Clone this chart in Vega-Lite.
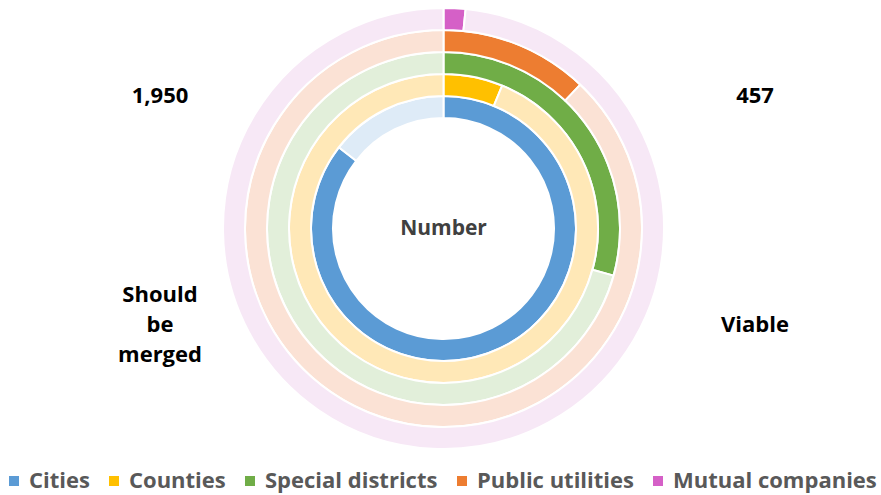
{
  "$schema": "https://vega.github.io/schema/vega-lite/v6.json",
  "width": 875,
  "height": 457,
  "autosize": {"type": "none"},
  "padding": {"left": 6, "top": 0, "right": 0, "bottom": 38},
  "background": "white",
  "config": {"view": {"stroke": null}, "font": "Open Sans"},
  "layer": [
    {
      "data": {
        "values": [
          {"category": "Cities", "status": "Viable", "share": 85.5},
          {"category": "Cities", "status": "Should be merged", "share": 14.5},
          {"category": "Counties", "status": "Viable", "share": 6.2},
          {"category": "Counties", "status": "Should be merged", "share": 93.8},
          {"category": "Special districts", "status": "Viable", "share": 29.3},
          {"category": "Special districts", "status": "Should be merged", "share": 70.7},
          {"category": "Public utilities", "status": "Viable", "share": 12.1},
          {"category": "Public utilities", "status": "Should be merged", "share": 87.9},
          {"category": "Mutual companies", "status": "Viable", "share": 1.6},
          {"category": "Mutual companies", "status": "Should be merged", "share": 98.4}
        ]
      },
      "transform": [
        {"stack": "share", "groupby": ["category"], "sort": [{"field": "status", "order": "descending"}], "offset": "normalize", "as": ["t0", "t1"]}
      ],
      "layer": [
        {
          "transform": [{"filter": "datum.status === 'Viable'"}],
          "mark": {"type": "arc", "stroke": "white", "strokeWidth": 2, "radius2Offset": -22},
          "encoding": {
            "theta": {"field": "t0", "type": "quantitative", "scale": {"domain": [0, 1]}},
            "theta2": {"field": "t1"},
            "radius": {"field": "category", "type": "ordinal", "scale": {"type": "point", "domain": ["Cities", "Counties", "Special districts", "Public utilities", "Mutual companies"], "range": [132.5, 220.5], "padding": 0}},
            "radius2": {"field": "category"},
            "color": {
              "field": "category", "type": "nominal",
              "scale": {"domain": ["Cities", "Counties", "Special districts", "Public utilities", "Mutual companies"], "range": ["#5B9BD5", "#FFC000", "#70AD47", "#ED7D31", "#D560C7"]},
              "legend": {
                "title": null, "orient": "none", "direction": "horizontal", "legendX": -3, "legendY": 470,
                "symbolType": "square", "symbolSize": 100, "symbolStrokeWidth": 0,
                "labelFont": "Open Sans", "labelFontWeight": "bold", "labelFontSize": 22, "labelColor": "#595959",
                "labelOffset": 4, "labelLimit": 400, "columnPadding": 13
              }
            }
          }
        },
        {
          "transform": [{"filter": "datum.status !== 'Viable'"}],
          "mark": {"type": "arc", "stroke": "white", "strokeWidth": 2, "radius2Offset": -22},
          "encoding": {
            "theta": {"field": "t0", "type": "quantitative", "scale": {"domain": [0, 1]}},
            "theta2": {"field": "t1"},
            "radius": {"field": "category", "type": "ordinal", "scale": {"type": "point", "domain": ["Cities", "Counties", "Special districts", "Public utilities", "Mutual companies"], "range": [132.5, 220.5], "padding": 0}},
            "radius2": {"field": "category"},
            "color": {
              "field": "category", "type": "nominal",
              "scale": {"domain": ["Cities", "Counties", "Special districts", "Public utilities", "Mutual companies"], "range": ["#DEEBF7", "#FFE8B7", "#E2EFDA", "#FBE2D5", "#F7E8F6"]},
              "legend": null
            }
          }
        }
      ],
      "resolve": {"scale": {"color": "independent"}}
    },
    {
      "data": {
        "values": [
          {"side": "Should be merged", "kind": "total", "label": "1,950"},
          {"side": "Viable", "kind": "total", "label": "457"},
          {"side": "Viable", "kind": "name", "label": "Viable"}
        ]
      },
      "mark": {"type": "text", "font": "Open Sans", "fontWeight": "bold", "fontSize": 22, "color": "#000000", "baseline": "middle", "align": "center"},
      "encoding": {
        "x": {"field": "side", "type": "nominal", "scale": {"type": "point", "domain": ["Should be merged", "Viable"], "range": [154, 749], "padding": 0}, "axis": null},
        "y": {"field": "kind", "type": "nominal", "scale": {"type": "point", "domain": ["total", "name"], "range": [96, 325], "padding": 0}, "axis": null},
        "text": {"field": "label"}
      }
    },
    {
      "data": {
        "values": [
          {"side": "Should be merged", "kind": "name", "label": "Should be merged"}
        ]
      },
      "mark": {"type": "text", "font": "Open Sans", "fontWeight": "bold", "fontSize": 22, "color": "#000000", "lineBreak": " ", "lineHeight": 30, "baseline": "middle", "align": "center", "dy": -30},
      "encoding": {
        "x": {"field": "side", "type": "nominal", "axis": null},
        "y": {"field": "kind", "type": "nominal", "axis": null},
        "text": {"field": "label"}
      }
    },
    {
      "data": {"values": [{"label": "Number"}]},
      "mark": {"type": "text", "font": "Open Sans", "fontWeight": "bold", "fontSize": 21, "color": "#404040", "baseline": "middle", "align": "center"},
      "encoding": {"text": {"field": "label"}}
    }
  ],
  "resolve": {"scale": {"color": "independent"}}
}
